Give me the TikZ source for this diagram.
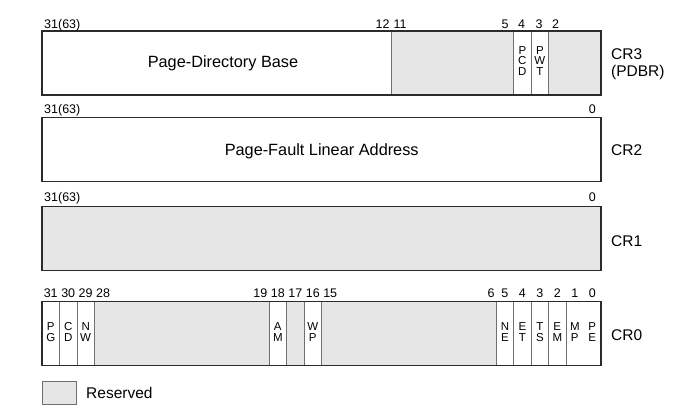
\documentclass[tikz,border=0pt]{standalone}
\usepackage{fontspec}
\setmainfont{Liberation Sans}
\definecolor{resgray}{HTML}{E6E6E6}
\definecolor{edge}{HTML}{2B2B2B}
\definecolor{sep}{HTML}{707070}
% left edge and centre of bit #1 in a 32-bit register row
\newcommand\bx[1]{(42+(31-#1)*17.46875)}
\newcommand\bc[1]{(42+(31-#1)*17.46875+8.734)}
\begin{document}
\begin{tikzpicture}[x=1pt,y=-1pt,
  frame/.style={draw=edge, line width=1.1pt},
  divider/.style={draw=sep, line width=0.8pt},
  resv/.style={fill=resgray},
  bitnum/.style={font=\fontsize{12.5}{13}\selectfont, inner sep=0pt, anchor=base},
  field/.style={font=\fontsize{16.3}{18}\selectfont, inner sep=0pt},
  regname/.style={font=\fontsize{15.5}{17}\selectfont, inner sep=0pt, anchor=west, align=left},
  flag/.style={font=\fontsize{11.5}{10.5}\selectfont, inner sep=0pt, align=center},
]
\useasboundingbox (0,0) rectangle (691,409);

% ---------------- CR3 ----------------
\fill[resv] ({\bx{11}},31) rectangle ({\bx{4}},95);
\fill[resv] ({\bx{2}},31) rectangle (601,95);
\foreach \b in {11,4,3,2} \draw[divider] ({\bx{\b}},31) -- ({\bx{\b}},95);
\draw[frame] (42,31) rectangle (601,95);
\node[bitnum, anchor=base west] (c3b31) at (44,28.5) {31(63)};
\node[bitnum] (c3b12) at ({\bc{12}},28.5) {12};
\node[bitnum] (c3b11) at ({\bc{11}},28.5) {11};
\node[bitnum] (c3b5) at (505,28.5) {5};
\node[bitnum] (c3b4) at (521.5,28.5) {4};
\node[bitnum] (c3b3) at (539,28.5) {3};
\node[bitnum] (c3b2) at (555.5,28.5) {2};
\node[field] (pdb) at (223,63) {Page-Directory Base};
\node[flag] (pcd) at ({\bc{4}},61) {P\\C\\D};
\node[flag] (pwt) at ({\bc{3}},61) {P\\W\\T};
\node[regname] (cr3) at (611,64.5) {CR3\\(PDBR)};

% ---------------- CR2 ----------------
\draw[frame] (42,117.5) rectangle (601,181.5);
\node[bitnum, anchor=base west] (c2b31) at (44,113.3) {31(63)};
\node[bitnum] (c2b0) at ({\bc{0}},113.3) {0};
\node[field] (pfla) at (321.7,151) {Page-Fault Linear Address};
\node[regname] (cr2) at (611,150) {CR2};

% ---------------- CR1 ----------------
\fill[resv] (42,206.7) rectangle (601,270.7);
\draw[frame] (42,206.7) rectangle (601,270.7);
\node[bitnum, anchor=base west] (c1b31) at (44,201) {31(63)};
\node[bitnum] (c1b0) at ({\bc{0}},201) {0};
\node[regname] (cr1) at (611,240.7) {CR1};

% ---------------- CR0 ----------------
\fill[resv] ({\bx{28}},301.7) rectangle ({\bx{18}},365.7);
\fill[resv] ({\bx{17}},301.7) rectangle ({\bx{16}},365.7);
\fill[resv] ({\bx{15}},301.7) rectangle ({\bx{5}},365.7);
\foreach \b in {30,29,28,18,17,16,15,5,4,3,2,1}
  \draw[divider] ({\bx{\b}},301.7) -- ({\bx{\b}},365.7);
\draw[frame] (42,301.7) rectangle (601,365.7);
\foreach \b in {31,30,29,28,19,18,17,16,15,5,4,3,2,1,0}
  \node[bitnum] (c0b\b) at ({\bc{\b}},297.3) {\b};
\node[bitnum] (c0b6) at (491,297.3) {6};
\foreach \b/\txt in {31/P\\G, 30/C\\D, 29/N\\W, 18/A\\M, 16/W\\P,
                     5/N\\E, 4/E\\T, 3/T\\S, 2/E\\M, 1/M\\P, 0/P\\E}
  \node[flag] (f\b) at ({\bc{\b}},332) {\txt};
\node[regname] (cr0) at (611,335) {CR0};

% ---------------- legend ----------------
\draw[resv, draw=sep, line width=0.8pt] (42.7,381.7) rectangle (76,404);
\node[regname] (legend) at (86,392.5) {Reserved};
\end{tikzpicture}
\end{document}
